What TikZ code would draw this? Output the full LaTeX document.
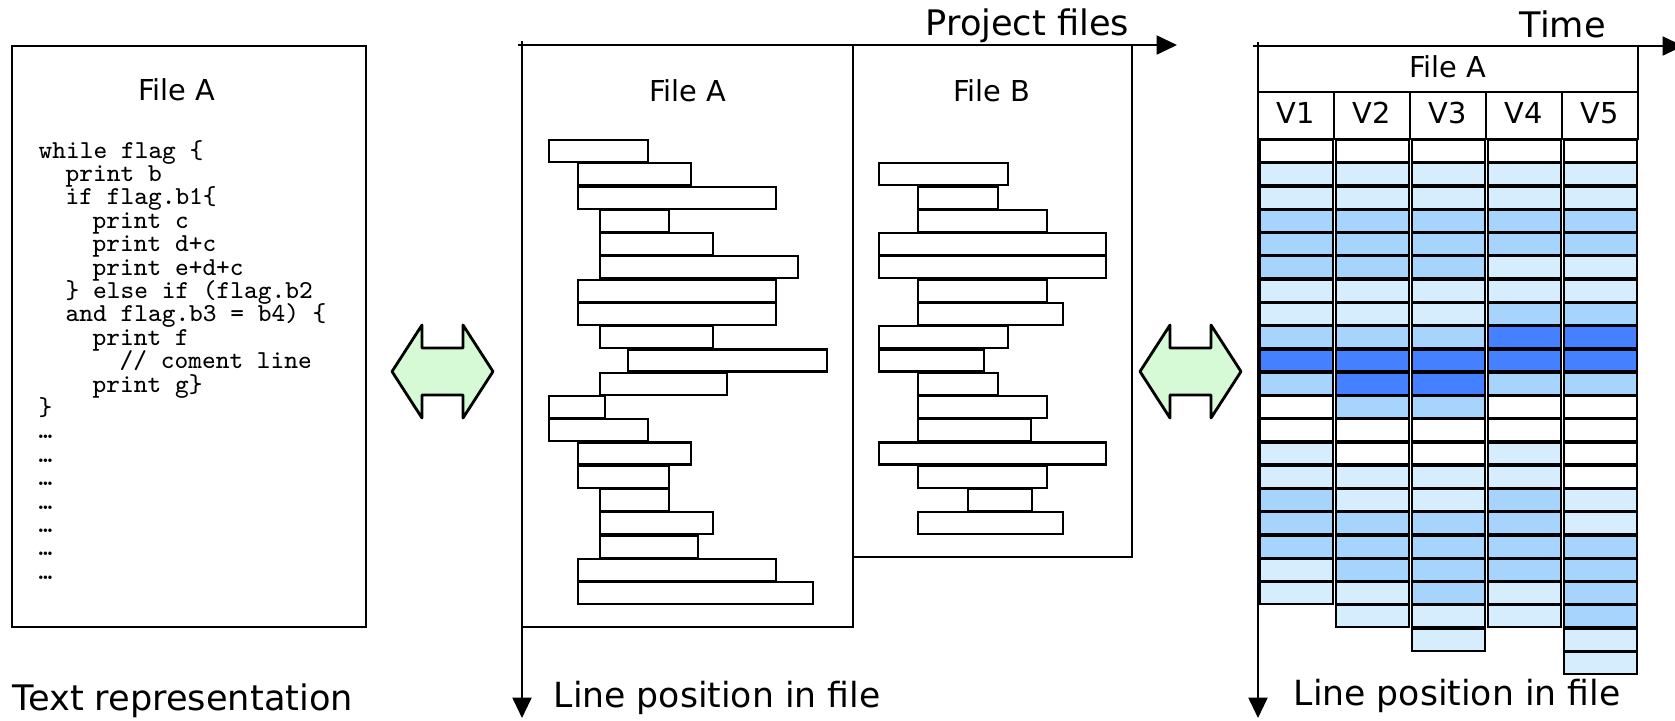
\documentclass[tikz,border=0pt]{standalone}
\usepackage{fontspec}
\setmainfont{DejaVu Sans}
\usetikzlibrary{arrows.meta}

\definecolor{verlight}{RGB}{214,237,253}
\definecolor{vermid}{RGB}{166,212,252}
\definecolor{verdark}{RGB}{68,128,255}
\definecolor{swapgreen}{RGB}{214,250,214}

\tikzset{
  axis/.style={line width=0.6pt, -{Triangle[length=5.8pt,width=5.4pt]}},
  panel/.style={draw, line width=0.6pt},
  codeline/.style={anchor=base west, inner sep=0pt, font=\ttfamily\fontsize{7.35}{8}\selectfont},
  biglabel/.style={anchor=base west, inner sep=0pt, font=\fontsize{10}{12}\selectfont},
  filelabel/.style={anchor=base, inner sep=0pt, font=\fontsize{8.2}{10}\selectfont},
  linebar/.style={draw, line width=0.6pt, fill=white},
  vercell/.style={draw, line width=0.6pt},
  swaparrow/.style={draw, line width=0.8pt, fill=swapgreen, line join=round},
}

\begin{document}
\begin{tikzpicture}[x=0.01cm, y=-0.01cm]
          \useasboundingbox (0,0) rectangle (1675,720);

          % text representation
          \draw[panel] (12,46) rectangle (366,627);
          \node[filelabel] (txtfile) at (177,100) {File A};
          \node[codeline] (c1) at (38,158) {while flag \{};
          \node[codeline] (c2) at (65,181.4) {print b};
          \node[codeline] (c3) at (65,204.8) {if flag.b1\{};
          \node[codeline] (c4) at (92,228.2) {print c};
          \node[codeline] (c5) at (92,251.6) {print d+c};
          \node[codeline] (c6) at (92,275) {print e+d+c};
          \node[codeline] (c7) at (65,298.4) {\} else if (flag.b2};
          \node[codeline] (c8) at (65,321.8) {and flag.b3 = b4) \{};
          \node[codeline] (c9) at (92,345.2) {print f};
          \node[codeline] (c10) at (119,368.6) {// coment line};
          \node[codeline] (c11) at (92,392) {print g\}};
          \node[codeline] (c12) at (38,415.4) {\}};
          \foreach \i in {13,...,19}
            \node[codeline] (dots\i) at (38,{158+23.4*(\i-1)}) {…};
          \node[biglabel] (txtrep) at (12,710) {Text representation};

          % swap arrow 1
          \draw[swaparrow, shift={(442.5,371.5)}] (-50.5,0) -- (-20.5,-46.5) -- (-20.5,-23.5)
            -- (20.5,-23.5) -- (20.5,-46.5) -- (50.5,0) -- (20.5,46.5) -- (20.5,23.5)
            -- (-20.5,23.5) -- (-20.5,46.5) -- cycle;

          % project files axes
          \coordinate (pstart) at (518,45);
          \coordinate (pend) at (1177,45);
          \coordinate (ltop) at (522,41);
          \coordinate (lend) at (522,718);
          \draw[panel] (522,45) rectangle (853,627);
          \draw[panel] (853,45) rectangle (1132,557);
          \draw[axis] (pstart) -- (pend);
          \draw[axis] (ltop) -- (lend);
          \node[biglabel] (projfiles) at (925,35) {Project files};
          \node[biglabel, font=\fontsize{9.85}{12}\selectfont] (linepos) at (553,707) {Line position in file};

          % File A lines
          \node[filelabel] (fileA) at (688,101) {File A};
          \foreach \a/\b [count=\r from 0] in {549/648, 578/691, 578/776, 600/669, 600/713,
              600/798, 578/776, 578/776, 600/713, 628/827, 600/727, 549/605, 549/648,
              578/691, 578/669, 600/669, 600/713, 600/698, 578/776, 578/813}
            \draw[linebar] (\a,{140+23.27*\r}) rectangle (\b,{162+23.27*\r});

          % File B lines
          \node[filelabel] (fileB) at (992,101) {File B};
          \foreach \a/\b [count=\r from 1] in {879/1008, 918/998, 918/1047, 879/1106, 879/1106,
              918/1047, 918/1063, 879/1008, 879/984, 918/998, 918/1047, 918/1031,
              879/1106, 918/1047, 968/1032, 918/1063}
            \draw[linebar] (\a,{140+23.27*\r}) rectangle (\b,{162+23.27*\r});

          % swap arrow 2
          \draw[swaparrow, shift={(1190.5,371.5)}] (-50.5,0) -- (-20.5,-46.5) -- (-20.5,-23.5)
            -- (20.5,-23.5) -- (20.5,-46.5) -- (50.5,0) -- (20.5,46.5) -- (20.5,23.5)
            -- (-20.5,23.5) -- (-20.5,46.5) -- cycle;

          % time axes
          \coordinate (tstart) at (1253,46);
          \coordinate (tend) at (1683,46);
          \coordinate (vtop) at (1258,42);
          \coordinate (vend) at (1258,718);
          \draw[axis] (tstart) -- (tend);
          \draw[axis] (vtop) -- (vend);
          \node[biglabel] (time) at (1519,37) {Time};
          \node[biglabel, font=\fontsize{9.85}{12}\selectfont] (linepos2) at (1293,705) {Line position in file};

          % versions of File A
          \draw[panel, line width=0.5pt] (1258,46) rectangle (1638,92);
          \node[filelabel] (verfile) at (1448,77) {File A};
          \foreach \v [count=\k from 0] in {V1,V2,V3,V4,V5} {
            \draw[panel, line width=0.5pt] ({1258+76*\k},92) rectangle ({1334+76*\k},139);
            \node[filelabel] (\v) at ({1296+76*\k},123) {\v};
          }
          \foreach \col [count=\k from 0] in {
              {white,verlight,verlight,vermid,vermid,vermid,verlight,verlight,vermid,verdark,
               vermid,white,white,verlight,verlight,vermid,vermid,vermid,verlight,verlight},
              {white,verlight,verlight,vermid,vermid,vermid,verlight,verlight,vermid,verdark,
               verdark,vermid,white,white,verlight,verlight,vermid,vermid,vermid,verlight,verlight},
              {white,verlight,verlight,vermid,vermid,vermid,verlight,verlight,vermid,verdark,
               verdark,vermid,white,white,verlight,verlight,vermid,vermid,vermid,vermid,verlight,verlight},
              {white,verlight,verlight,vermid,vermid,verlight,verlight,vermid,verdark,verdark,
               vermid,white,white,verlight,verlight,vermid,vermid,vermid,vermid,verlight,verlight},
              {white,verlight,verlight,vermid,vermid,verlight,verlight,vermid,verdark,verdark,
               vermid,white,white,white,white,verlight,verlight,vermid,vermid,vermid,vermid,verlight,verlight}}
            \foreach \c [count=\r from 0] in \col
              \draw[vercell, fill=\c] ({1260+76*\k},{140+23.27*\r}) rectangle ++(73,22);

        \end{tikzpicture}
\end{document}
